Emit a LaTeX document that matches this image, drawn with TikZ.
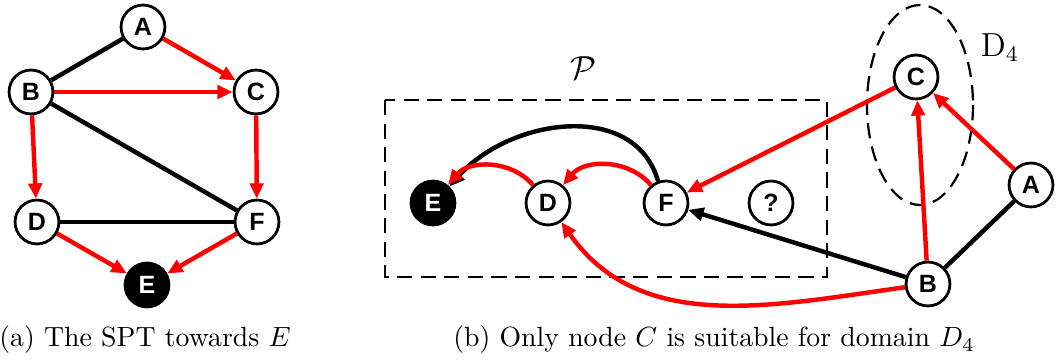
\documentclass[tikz,border=0pt]{standalone}
\usepackage{fontspec}
\usepackage{amsmath,amssymb}
\usetikzlibrary{arrows.meta,positioning}
\newfontfamily\vtxfont{Liberation Sans}
\definecolor{redx}{HTML}{FF0000}
\tikzset{
  vtx/.style={circle,draw,line width=1pt,fill=white,minimum size=15.8pt,inner sep=0pt,font=\vtxfont\bfseries\fontsize{9}{10}\selectfont},
  dst/.style={vtx,fill=black,text=white},
  rd/.style={-{Triangle[length=5.5pt,width=4.8pt]},line width=1.6pt,redx},
  bk/.style={line width=1.6pt,black},
  bkar/.style={bk,-{Triangle[length=5.5pt,width=4.8pt]}},
  zone/.style={draw,line width=0.8pt,dash pattern=on 5.5pt off 3pt}
}

\begin{document}
\begin{tikzpicture}[x=0.36pt,y=-0.36pt]
\useasboundingbox (0,0) rectangle (1057,361);
% (a) the SPT
\node[vtx] (a1) at (143,27) {A};
\node[vtx] (b1) at (31,92) {B};
\node[vtx] (c1) at (256,92) {C};
\node[vtx] (d1) at (37,222) {D};
\node[vtx] (f1) at (257,222) {F};
\node[dst] (e1) at (147,285) {E};
\draw[bk] (a1)--(b1);
\draw[bk] (b1)--(f1);
\draw[bk] (d1)--(f1);
\draw[rd] (a1)--(c1);
\draw[rd] (b1)--(c1);
\draw[rd] (b1)--(d1);
\draw[rd] (c1)--(f1);
\draw[rd] (d1)--(e1);
\draw[rd] (f1)--(e1);
\node (capa) at (145,340) {(a)\ The SPT towards $E$};

% (b) domain D4
\draw[zone] (385,100) rectangle (827,277);
\node[font=\large] (pset) at (583,68) {$\mathcal{P}$};
\draw[zone] (920,105) ellipse (53 and 100);
\node[font=\large] (dlab) at (1000,48) {$\mathrm{D}_4$};
\node[dst] (e2) at (433,203) {E};
\node[vtx] (d2) at (548,203) {D};
\node[vtx] (f2) at (666,203) {F};
\node[vtx] (q2) at (771,203) {?};
\node[vtx] (c2) at (916,77) {C};
\node[vtx] (a2) at (1031,185) {A};
\node[vtx] (b2) at (928,284) {B};
\draw[bk] (a2)--(b2);
\draw[bkar] (b2)--(f2);
\draw[bkar] (f2.110) .. controls (635,100) and (510,118) .. (e2.45);
\draw[rd] (f2) to[out=130,in=50] (d2);
\draw[rd] (d2) to[out=130,in=50] (e2);
\draw[rd] (c2)--(f2);
\draw[rd] (a2)--(c2);
\draw[rd] (b2)--(c2);
\draw[rd] (b2) to[out=188,in=-55] (d2);
\node (capb) at (714,340) {(b)\ Only node $C$ is suitable for domain $D_4$};
\end{tikzpicture}
\end{document}
